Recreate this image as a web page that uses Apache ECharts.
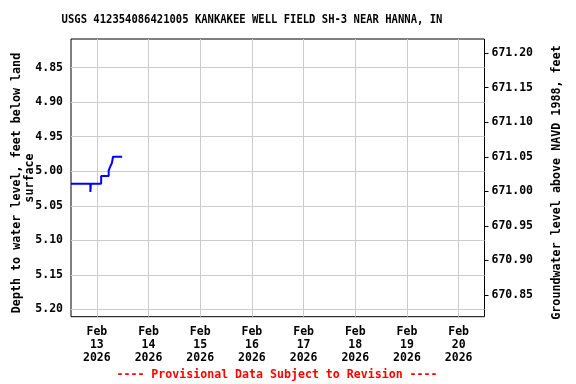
<!DOCTYPE html>
<html>
<head>
<meta charset="utf-8">
<script src="https://cdn.jsdelivr.net/npm/echarts@6/dist/echarts.min.js"></script>
<style>html,body{margin:0;padding:0;background:#fff;}#c{width:576px;height:384px;}</style>
</head>
<body>
<div id="c"></div>
<script>
// Data (times in UTC)
var times = ["2026-02-12T12:00","2026-02-12T21:00","2026-02-12T21:15","2026-02-13T02:00","2026-02-13T05:30","2026-02-13T06:15","2026-02-13T07:00","2026-02-13T07:30","2026-02-13T11:45"];
var depths = [5.018, 5.03, 5.018, 5.007, 4.999, 4.993, 4.988, 4.979, 4.979];
var xTickDays = ["2026-02-13","2026-02-14","2026-02-15","2026-02-16","2026-02-17","2026-02-18","2026-02-19","2026-02-20"];
var leftTicks = [4.85, 4.90, 4.95, 5.00, 5.05, 5.10, 5.15, 5.20];
var rightTicks = [670.85, 670.90, 670.95, 671.00, 671.05, 671.10, 671.15, 671.20];
var landSurface = 676.029;
var depthMin = 4.8084, depthMax = 5.2107;
var xMinStr = "2026-02-12T12:00", xMaxStr = "2026-02-20T12:00";
var titleText = "USGS 412354086421005 KANKAKEE WELL FIELD SH-3 NEAR HANNA, IN";
var footerText = "---- Provisional Data Subject to Revision ----";
var leftName1 = "Depth to water level, feet below land";
var leftName2 = "surface";
var rightName = "Groundwater level above NAVD 1988, feet";

function utc(s){ return Date.parse(s + (s.length <= 10 ? "T00:00Z" : "Z")); }
var months = ["Jan","Feb","Mar","Apr","May","Jun","Jul","Aug","Sep","Oct","Nov","Dec"];
var FONT = "DejaVu Sans Mono";
var lab = {fontFamily: FONT, fontWeight: "bold", fontSize: 11.5, color: "#000"};
var nameStyle = {fontFamily: FONT, fontWeight: "bold", fontSize: 11.7, fill: "#000", align: "center", verticalAlign: "middle"};

var seriesData = times.map(function(t, i){ return [utc(t), depths[i]]; });

var chart = echarts.init(document.getElementById("c"), null, {renderer: "canvas"});
chart.setOption({
  animation: false,
  backgroundColor: "#fff",
  grid: {left: 71, top: 39, right: 91.5, bottom: 67.3, containLabel: false, outerBoundsMode: "none", show: true, borderColor: "#000", borderWidth: 1},
  xAxis: {
    type: "value",
    min: utc(xMinStr), max: utc(xMaxStr),
    axisLine: {show: false},
    axisTick: {show: false, customValues: xTickDays.map(utc)},
    splitLine: {show: true, lineStyle: {color: "#cccccc", width: 1}},
    axisLabel: Object.assign({}, lab, {
      customValues: xTickDays.map(utc),
      margin: 9, lineHeight: 13,
      formatter: function(v){ var d = new Date(v); return months[d.getUTCMonth()] + "\n" + d.getUTCDate() + "\n" + d.getUTCFullYear(); }
    })
  },
  yAxis: [{
    type: "value",
    inverse: true,
    min: depthMin, max: depthMax,
    position: "left",
    axisLine: {show: false},
    axisTick: {show: false, customValues: leftTicks},
    splitLine: {show: true, lineStyle: {color: "#cccccc", width: 1}},
    axisLabel: Object.assign({}, lab, {customValues: leftTicks, margin: 8, formatter: function(v){ return v.toFixed(2); }})
  }, {
    type: "value",
    min: landSurface - depthMax, max: landSurface - depthMin,
    position: "right",
    axisLine: {show: false},
    axisTick: {show: true, inside: false, length: 4, customValues: rightTicks, lineStyle: {color: "#000", width: 1}},
    splitLine: {show: false},
    axisLabel: Object.assign({}, lab, {customValues: rightTicks, margin: 7, formatter: function(v){ return v.toFixed(2); }})
  }],
  series: [{
    type: "line",
    yAxisIndex: 0,
    data: seriesData,
    step: "end",
    showSymbol: false,
    lineStyle: {color: "#0000ff", width: 2},
    z: 5
  }],
  graphic: [{
    type: "text", x: 252, y: 19.5, scaleX: 0.837,
    style: {text: titleText, fontFamily: FONT, fontWeight: "bold", fontSize: 12.6, fill: "#000", align: "center", verticalAlign: "middle"}
  }, {
    type: "text", x: 277, y: 374.5,
    style: {text: footerText, fontFamily: FONT, fontWeight: "bold", fontSize: 11.6, fill: "#ff0000", align: "center", verticalAlign: "middle"}
  }, {
    type: "text", x: 17, y: 183, rotation: Math.PI / 2,
    style: Object.assign({text: leftName1}, nameStyle)
  }, {
    type: "text", x: 30, y: 178, rotation: Math.PI / 2,
    style: Object.assign({text: leftName2}, nameStyle)
  }, {
    type: "text", x: 557, y: 182.5, rotation: Math.PI / 2,
    style: Object.assign({text: rightName}, nameStyle)
  }]
});
</script>
</body>
</html>
